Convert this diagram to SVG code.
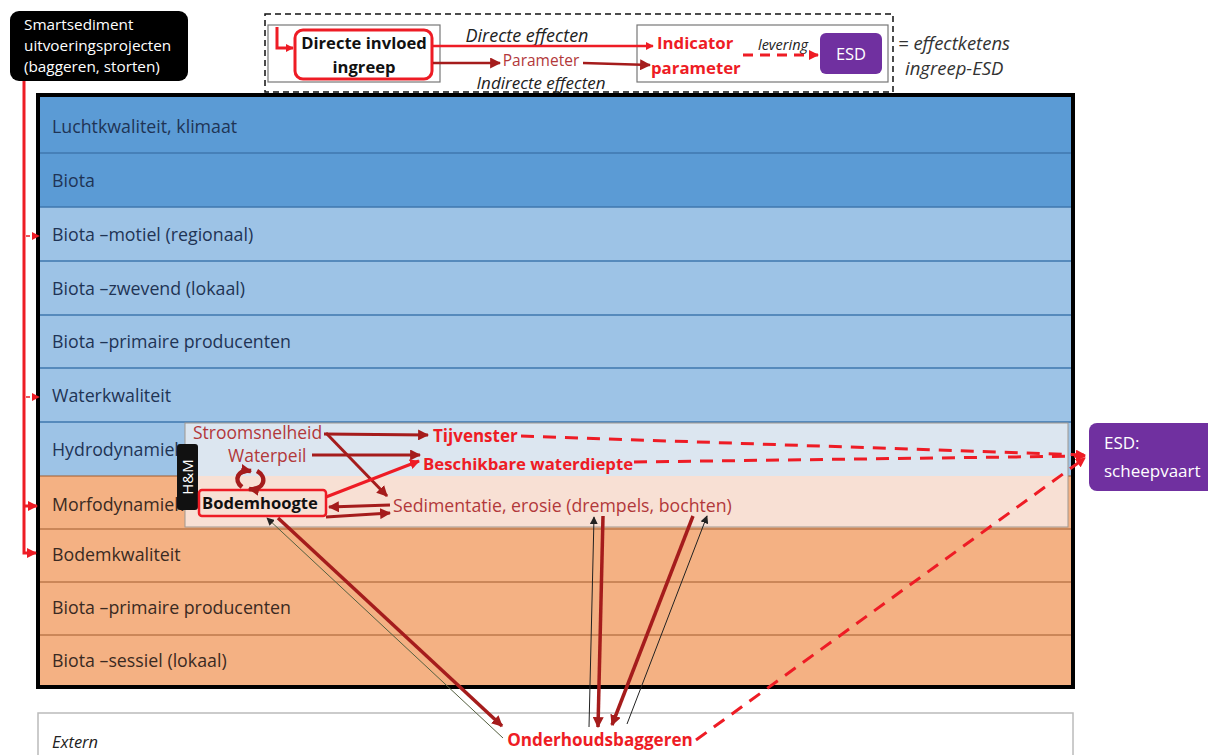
<svg xmlns="http://www.w3.org/2000/svg" width="1208" height="755" viewBox="0 0 1208 755">
  <style>
    .row { font-family: "Open Sans", "Liberation Sans", sans-serif; font-size: 17.8px; }
    .blue { fill: #1F3455; }
    .brown { fill: #3A2A22; }
    .lbl { font-family: "Open Sans", "Liberation Sans", sans-serif; }
    .it { font-style: italic; }
    .b { font-weight: bold; }
    .dr { fill: #B2383A; }
    .rd { fill: #EE1C25; }
    .wh { fill: #FFFFFF; }
    .divB { stroke: #3F77AE; stroke-width: 1.5; }
    .divO { stroke: #A15C2E; stroke-width: 1; }
    .redL { stroke: #EE1C25; fill: none; }
    .darkL { stroke: #A51C1C; fill: none; }
    .blkL { stroke: #222; fill: none; stroke-width: 1; }
  </style>
  <defs>
    <marker id="ahRed" viewBox="0 0 10 10" refX="9" refY="5" markerWidth="10" markerHeight="10" markerUnits="userSpaceOnUse" orient="auto">
      <path d="M0,0 L10,5 L0,10 z" fill="#EE1C25"/>
    </marker>
    <marker id="ahRedS" viewBox="0 0 10 10" refX="9" refY="5" markerWidth="8" markerHeight="8" markerUnits="userSpaceOnUse" orient="auto">
      <path d="M0,0 L10,5 L0,10 z" fill="#EE1C25"/>
    </marker>
    <marker id="ahDark" viewBox="0 0 10 10" refX="9" refY="5" markerWidth="11" markerHeight="11" markerUnits="userSpaceOnUse" orient="auto">
      <path d="M0,0 L10,5 L0,10 z" fill="#A51C1C"/>
    </marker>
    <marker id="ahBlk" viewBox="0 0 10 10" refX="9" refY="5" markerWidth="8" markerHeight="8" markerUnits="userSpaceOnUse" orient="auto">
      <path d="M0,0 L10,5 L0,10 z" fill="#222"/>
    </marker>
  </defs>

  <rect width="1208" height="755" fill="#FFFFFF"/>

  <!-- Layer stack -->
  <g id="layers">
    <rect x="38" y="95" width="1035" height="112" fill="#5B9BD5"/>
    <rect x="38" y="207" width="1035" height="269" fill="#9DC3E6"/>
    <rect x="38" y="476" width="1035" height="211" fill="#F4B183"/>
    <line class="divB" x1="38" y1="153" x2="1073" y2="153"/>
    <line class="divB" x1="38" y1="207" x2="1073" y2="207"/>
    <line class="divB" x1="38" y1="261" x2="1073" y2="261"/>
    <line class="divB" x1="38" y1="315" x2="1073" y2="315"/>
    <line class="divB" x1="38" y1="368" x2="1073" y2="368"/>
    <line class="divB" x1="38" y1="422" x2="1073" y2="422"/>
    <line class="divO" x1="38" y1="476" x2="1073" y2="476"/>
    <line class="divO" x1="38" y1="529" x2="1073" y2="529"/>
    <line class="divO" x1="38" y1="582" x2="1073" y2="582"/>
    <line class="divO" x1="38" y1="635" x2="1073" y2="635"/>
    <text class="row blue" x="52" y="133">Luchtkwaliteit, klimaat</text>
    <text class="row blue" x="52" y="187">Biota</text>
    <text class="row blue" x="52" y="241">Biota –motiel (regionaal)</text>
    <text class="row blue" x="52" y="295">Biota –zwevend (lokaal)</text>
    <text class="row blue" x="52" y="348">Biota –primaire producenten</text>
    <text class="row blue" x="52" y="402">Waterkwaliteit</text>
    <text class="row blue" x="52" y="456">Hydrodynamiek</text>
    <text class="row brown" x="52" y="511">Morfodynamiek</text>
    <text class="row brown" x="52" y="561">Bodemkwaliteit</text>
    <text class="row brown" x="52" y="614">Biota –primaire producenten</text>
    <text class="row brown" x="52" y="667">Biota –sessiel (lokaal)</text>
  </g>

  <!-- Hydro & morpho detail panel -->
  <g id="hm-panel">
    <rect x="185" y="423" width="883" height="53" fill="#DCE6F0"/>
    <rect x="185" y="476" width="883" height="51" fill="#F8E0D4"/>
    <rect x="185" y="423" width="883" height="104" fill="none" stroke="#A09890" stroke-width="1"/>
  </g>

  <g id="hm-label">
    <rect x="177" y="444" width="21" height="66" rx="3" fill="#111"/>
    <text class="lbl wh" x="0" y="0" font-size="15" text-anchor="middle" transform="translate(193,477) rotate(-90)">H&amp;M</text>
  </g>

  <rect id="frame" x="38" y="95" width="1035" height="592" fill="none" stroke="#000" stroke-width="4"/>

  <!-- External box -->
  <g id="extern">
    <rect x="38" y="713" width="1035" height="50" fill="#FFFFFF" stroke="#BBBBBB" stroke-width="1.5"/>
    <text class="lbl it" x="52" y="748" font-size="16.5" fill="#222">Extern</text>
  </g>

  <!-- Project box -->
  <g id="project">
    <rect x="10" y="11" width="178" height="70" rx="9" fill="#000"/>
    <text class="lbl wh" x="24" y="30" font-size="15.3">Smartsediment</text>
    <text class="lbl wh" x="24" y="51" font-size="15.3">uitvoeringsprojecten</text>
    <text class="lbl wh" x="24" y="72" font-size="15.3">(baggeren, storten)</text>
  </g>

  <!-- Legend -->
  <g id="legend">
    <rect x="265" y="14" width="628" height="78" fill="none" stroke="#111" stroke-width="1.5" stroke-dasharray="6,4"/>
    <rect x="268" y="25" width="172" height="57" fill="#FFF" stroke="#777" stroke-width="1.2"/>
    <rect x="637" y="25" width="251" height="57" fill="#FFF" stroke="#777" stroke-width="1.2"/>
    <rect x="295" y="30" width="137" height="49" rx="8" fill="#FFF" stroke="#EE1C25" stroke-width="3"/>
    <text class="lbl b" x="364" y="49" font-size="16.6" text-anchor="middle" fill="#111">Directe invloed</text>
    <text class="lbl b" x="364" y="73" font-size="16.6" text-anchor="middle" fill="#111">ingreep</text>
    <text class="lbl it" x="527" y="42" font-size="18" text-anchor="middle" fill="#222">Directe effecten</text>
    <text class="lbl dr" x="541" y="66" font-size="15.5" text-anchor="middle">Parameter</text>
    <text class="lbl it" x="541" y="89" font-size="17" text-anchor="middle" fill="#222">Indirecte effecten</text>
    <text class="lbl b rd" x="657" y="49" font-size="16.8">Indicator</text>
    <text class="lbl b rd" x="651" y="74" font-size="16.8">parameter</text>
    <text class="lbl it" x="783" y="50" font-size="14.5" text-anchor="middle" fill="#222">levering</text>
    <rect x="820" y="33" width="62" height="41" rx="6" fill="#7030A0"/>
    <text class="lbl wh" x="851" y="60" font-size="16.5" text-anchor="middle">ESD</text>
    <text class="lbl it" x="898" y="50" font-size="18.5" fill="#333">= effectketens</text>
    <text class="lbl it" x="905" y="75" font-size="18.5" fill="#333">ingreep-ESD</text>
  </g>

  <!-- ESD target -->
  <g id="esd-scheepvaart">
    <rect x="1089" y="423" width="128" height="68" rx="8" fill="#7030A0"/>
    <text class="lbl wh" x="1104" y="449" font-size="17">ESD:</text>
    <text class="lbl wh" x="1104" y="477" font-size="17">scheepvaart</text>
  </g>

  <!-- Parameter labels -->
  <g id="parameters">
    <text class="lbl dr" x="193" y="439" font-size="17.5">Stroomsnelheid</text>
    <text class="lbl dr" x="228" y="462" font-size="17.5">Waterpeil</text>
    <text class="lbl b rd" x="433" y="442" font-size="17">Tijvenster</text>
    <text class="lbl b rd" x="423" y="470" font-size="16.8">Beschikbare waterdiepte</text>
    <rect x="199" y="490" width="127" height="26" rx="3" fill="none" stroke="#EE1C25" stroke-width="2.5"/>
    <text class="lbl b" x="202" y="509" font-size="16.6" fill="#111">Bodemhoogte</text>
    <text class="lbl dr" x="393" y="512" font-size="17.7">Sedimentatie, erosie (drempels, bochten)</text>
    <text class="lbl b rd" x="600" y="746" font-size="17.1" text-anchor="middle">Onderhoudsbaggeren</text>
  </g>

  <!-- Connectors -->
  <g id="connectors">
    <!-- project feed lines -->
    <polyline class="redL" stroke-width="3" points="24,81 24,553 36,553" marker-end="url(#ahRed)"/>
    <line class="redL" stroke-width="3" x1="24" y1="506" x2="37" y2="506" marker-end="url(#ahRed)"/>
    <line class="redL" stroke-width="1.5" stroke-dasharray="4,3" x1="26" y1="236" x2="39" y2="236" marker-end="url(#ahRedS)"/>
    <line class="redL" stroke-width="1.5" stroke-dasharray="4,3" x1="26" y1="397" x2="39" y2="397" marker-end="url(#ahRedS)"/>

    <!-- legend connectors -->
    <polyline class="redL" stroke-width="3" points="277,27 277,48 293,48" marker-end="url(#ahRedS)"/>
    <line class="redL" stroke-width="2.5" x1="433" y1="46" x2="653" y2="46" marker-end="url(#ahRedS)"/>
    <line class="darkL" stroke-width="2.5" x1="433" y1="63" x2="500" y2="63" marker-end="url(#ahDark)"/>
    <line class="darkL" stroke-width="2.5" x1="583" y1="63" x2="650" y2="65" marker-end="url(#ahDark)"/>
    <line class="redL" stroke-width="3" stroke-dasharray="10,7" x1="743" y1="55" x2="818" y2="55" marker-end="url(#ahRed)"/>

    <!-- hydro/morpho chains -->
    <line class="darkL" stroke-width="3" x1="324" y1="434" x2="428" y2="435" marker-end="url(#ahDark)"/>
    <line class="darkL" stroke-width="3" x1="326" y1="433" x2="387" y2="496" marker-end="url(#ahDark)"/>
    <line class="darkL" stroke-width="3" x1="312" y1="455" x2="420" y2="455" marker-end="url(#ahDark)"/>
    <line class="redL" stroke-width="3" x1="326" y1="497" x2="419" y2="461" marker-end="url(#ahRed)"/>
    <line class="darkL" stroke-width="3" x1="390" y1="505" x2="329" y2="507" marker-end="url(#ahDark)"/>
    <line class="darkL" stroke-width="3" x1="326" y1="517" x2="390" y2="513" marker-end="url(#ahDark)"/>

    <!-- H&M feedback loop -->
    <path class="darkL" stroke-width="4.5" d="M242,487 C233,480 238,469 251,471" marker-end="url(#ahDark)"/>
    <path class="darkL" stroke-width="4.5" d="M257,471 C268,477 264,491 249,489" marker-end="url(#ahDark)"/>

    <!-- to ESD scheepvaart -->
    <path class="redL" stroke-width="3" stroke-dasharray="13,9" d="M521,436 L1085,455" marker-end="url(#ahRed)"/>
    <path class="redL" stroke-width="3" stroke-dasharray="13,9" d="M634,462 L1085,456" marker-end="url(#ahRed)"/>
    <path class="redL" stroke-width="3" stroke-dasharray="13,9" d="M696,740 L1085,458" marker-end="url(#ahRed)"/>

    <!-- maintenance dredging -->
    <line class="darkL" stroke-width="3.5" x1="278" y1="518" x2="502" y2="726" marker-end="url(#ahDark)"/>
    <line stroke="#556040" stroke-width="1" x1="503" y1="738" x2="267" y2="518" marker-end="url(#ahBlk)"/>
    <line class="blkL" x1="589" y1="727" x2="594" y2="517" marker-end="url(#ahBlk)"/>
    <line class="darkL" stroke-width="3.5" x1="603" y1="516" x2="598" y2="727" marker-end="url(#ahDark)"/>
    <line class="darkL" stroke-width="3.5" x1="693" y1="516" x2="612" y2="725" marker-end="url(#ahDark)"/>
    <line class="blkL" x1="627" y1="724" x2="707" y2="516" marker-end="url(#ahBlk)"/>
  </g>
</svg>
